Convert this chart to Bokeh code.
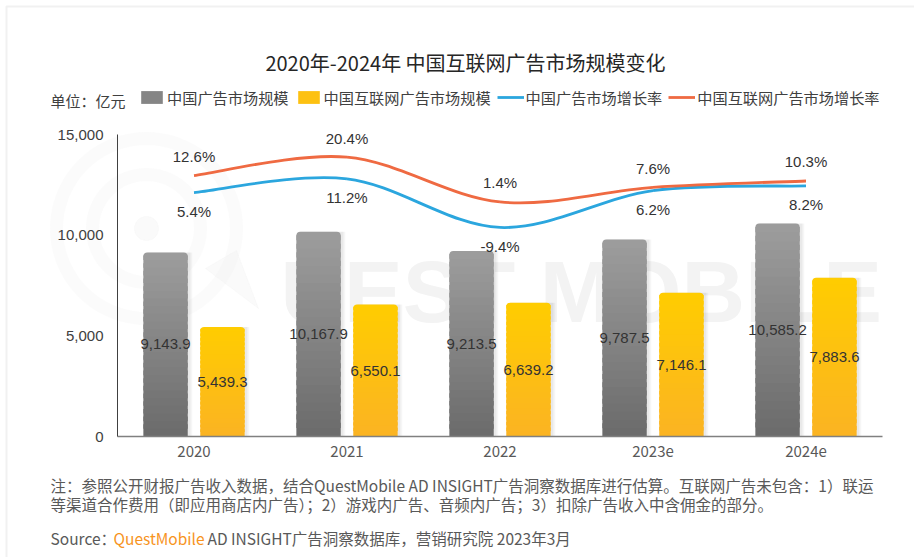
import math
from bokeh.plotting import figure
from bokeh.models import (ColumnDataSource, Range1d, FixedTicker, NumeralTickFormatter,
                          Label, Legend, LegendItem, BoxAnnotation, PolyAnnotation)
from bokeh.transform import dodge
from bokeh.core.properties import value
from bokeh.embed import file_html
from bokeh.resources import INLINE

# ---------------- data ----------------
categories = ["2020", "2021", "2022", "2023e", "2024e"]
china_ad_scale = [9143.9, 10167.9, 9213.5, 9787.5, 10585.2]
internet_ad_scale = [5439.3, 6550.1, 6639.2, 7146.1, 7883.6]
china_ad_growth = [5.4, 11.2, -9.4, 6.2, 8.2]
internet_ad_growth = [12.6, 20.4, 1.4, 7.6, 10.3]
y_ticks = [0, 5000, 10000, 15000]

title_text = "2020年-2024年 中国互联网广告市场规模变化"
unit_text = "单位：亿元"
series_names = ["中国广告市场规模", "中国互联网广告市场规模", "中国广告市场增长率", "中国互联网广告市场增长率"]
note_lines = ["注：参照公开财报广告收入数据，结合QuestMobile AD INSIGHT广告洞察数据库进行估算。互联网广告未包含：1）联运",
              "等渠道合作费用（即应用商店内广告）；2）游戏内广告、音频内广告；3）扣除广告收入中含佣金的部分。"]
source_parts = ["Source：", "QuestMobile", " AD INSIGHT广告洞察数据库，营销研究院 2023年3月"]

# ---------------- layout constants (canvas pixels) ----------------
W, H = 914, 557
FL, FR, FT, FB = 117, 882, 134, 436     # plot area inside the canvas
CJK = "Noto Sans CJK SC"
NUM = "Liberation Sans"

ncat = len(categories)
ymax = y_ticks[-1]
rate_lo, rate_hi = -98, 30
xpu = (FR - FL) / ncat                 # px per category
ypu = (FB - FT) / ymax                 # px per value unit
rpu = (FB - FT) / (rate_hi - rate_lo)  # px per rate unit

x_range = Range1d(-FL / xpu, ncat + (W - FR) / xpu)
y_range = Range1d(-(H - FB) / ypu, ymax + FT / ypu)

p = figure(width=W, height=H, x_range=x_range, y_range=y_range,
           output_backend="svg", toolbar_location=None,
           min_border_left=0, min_border_right=0, min_border_top=0, min_border_bottom=0)
p.extra_y_ranges = {"rate": Range1d(rate_lo - (H - FB) / rpu, rate_hi + FT / rpu)}
p.xgrid.visible = False
p.ygrid.visible = False
p.outline_line_color = None
p.background_fill_color = "white"
p.border_fill_color = "white"

xpos = [i + 0.5 for i in range(ncat)]

yax = p.yaxis[0]
yax.fixed_location = 0
yax.bounds = (0, ymax)
yax.ticker = FixedTicker(ticks=y_ticks)
yax.formatter = NumeralTickFormatter(format="0,0")
yax.major_tick_line_color = None
yax.minor_tick_line_color = None
yax.major_tick_out = 0
yax.axis_line_color = "#404040"
yax.axis_line_width = 1
yax.major_label_text_font = NUM
yax.major_label_text_font_size = "15px"
yax.major_label_text_color = "#404040"
yax.major_label_standoff = 14

xax = p.xaxis[0]
xax.fixed_location = 0
xax.bounds = (0, ncat)
xax.ticker = FixedTicker(ticks=xpos)
xax.major_label_overrides = {x: c for x, c in zip(xpos, categories)}
xax.major_tick_line_color = None
xax.minor_tick_line_color = None
xax.major_tick_out = 0
xax.axis_line_color = "#808080"
xax.axis_line_width = 1.5
xax.major_label_text_font = CJK
xax.major_label_text_font_size = "15px"
xax.major_label_text_color = "#595959"
xax.major_label_standoff = 9

# ---------------- helpers ----------------
def lab(text, X, Y, size, color, font=CJK, align="left", baseline="middle", style="normal", level=None):
    l = Label(x=X, y=H - Y, x_units="screen", y_units="screen", text=text,
              text_font=font, text_font_size=f"{size}px", text_color=color,
              text_align=align, text_baseline=baseline, text_font_style=style)
    if level:
        l.level = level
    p.add_layout(l)
    return l

def hex2rgb(h):
    h = h.lstrip("#")
    return [int(h[i:i + 2], 16) for i in (0, 2, 4)]

def mix(c0, c1, t):
    a, b = hex2rgb(c0), hex2rgb(c1)
    return "#%02x%02x%02x" % tuple(round(a[i] + (b[i] - a[i]) * t) for i in range(3))

# ---------------- watermark ----------------
cx, cy = 146, 228
def ring(r, n=72):
    xs = [cx + r * math.cos(2 * math.pi * k / n) for k in range(n)]
    ys = [H - (cy + r * math.sin(2 * math.pi * k / n)) for k in range(n)]
    return xs, ys
wm = "#f3f3f3"
for r in (90, 54):
    xs, ys = ring(r)
    p.add_layout(PolyAnnotation(xs=xs, ys=ys, xs_units="screen", ys_units="screen",
                                fill_color=None, line_color=wm, line_width=13, level="underlay"))
xs, ys = ring(12, 36)
p.add_layout(PolyAnnotation(xs=xs, ys=ys, xs_units="screen", ys_units="screen",
                            fill_color=wm, line_color=wm, level="underlay"))
tail = [(205, 268), (258, 308), (236, 250)]
p.add_layout(PolyAnnotation(xs=[t[0] for t in tail], ys=[H - t[1] for t in tail],
                            xs_units="screen", ys_units="screen",
                            fill_color=wm, line_color=wm, level="underlay"))
lab("UEST MOBILE", 280, 291, 88, wm, font=NUM, baseline="alphabetic", style="bold", level="underlay")

# ---------------- bars ----------------
N = 24
BW = 0.29
series = [
    (china_ad_scale, -0.186, "#9d9d9d", "#6b6b6b"),
    (internet_ad_scale, 0.186, "#ffcd00", "#fbb323"),
]
legend_renderers = []
for vals, off, ctop, cbot in series:
    sh = ColumnDataSource(dict(x=xpos, top=vals))
    p.vbar(x=dodge("x", off + 0.030), top="top", bottom=0, width=BW,
           source=sh, fill_color="#000000", fill_alpha=0.035, line_color=None)
    p.vbar(x=dodge("x", off + 0.018), top="top", bottom=0, width=BW,
           source=sh, fill_color="#000000", fill_alpha=0.05, line_color=None)
    body = dict(x=[], bottom=[], top=[], color=[])
    for xc, v in zip(xpos, vals):
        for k in range(N - 1):
            body["x"].append(xc)
            body["bottom"].append(v * k / N)
            body["top"].append(v * (k + 1.6) / N)
            body["color"].append(mix(cbot, ctop, (k + 0.5) / N))
    rb = p.vbar(x=dodge("x", off), top="top", bottom="bottom", width=BW,
                source=ColumnDataSource(body), fill_color="color", line_color=None)
    topsrc = ColumnDataSource(dict(x=xpos, bottom=[v * (N - 1) / N for v in vals], top=vals,
                                   color=[mix(cbot, ctop, (N - 0.5) / N)] * ncat))
    p.vbar(x=dodge("x", off), top="top", bottom="bottom", width=BW,
           source=topsrc, fill_color="color", line_color=None, border_radius=(4, 4, 0, 0))
    legend_renderers.append(rb)
    lsrc = ColumnDataSource(dict(x=xpos, y=[v / 2 for v in vals],
                                 t=[f"{v:,.1f}" for v in vals]))
    p.text(x=dodge("x", off), y="y", text="t", source=lsrc,
           text_font=value(NUM), text_font_size="15px", text_color="#333333",
           text_align="center", text_baseline="middle")

# ---------------- growth lines (smoothed bezier through the data points) ----------------
def bezier_source(vals):
    pts = list(zip(xpos, vals))
    d = dict(x0=[], y0=[], x1=[], y1=[], cx0=[], cy0=[], cx1=[], cy1=[])
    n = len(pts)
    for i in range(n - 1):
        p0 = pts[i - 1] if i > 0 else pts[i]
        p1, p2 = pts[i], pts[i + 1]
        p3 = pts[i + 2] if i + 2 < n else pts[i + 1]
        d["x0"].append(p1[0]); d["y0"].append(p1[1])
        d["x1"].append(p2[0]); d["y1"].append(p2[1])
        d["cx0"].append(p1[0] + (p2[0] - p0[0]) / 6); d["cy0"].append(p1[1] + (p2[1] - p0[1]) / 6)
        d["cx1"].append(p2[0] - (p3[0] - p1[0]) / 6); d["cy1"].append(p2[1] - (p3[1] - p1[1]) / 6)
    return ColumnDataSource(d)

lines = [(china_ad_growth, "#2ba6de", 19), (internet_ad_growth, "#ef6a42", -19)]
for vals, col, yoff in lines:
    r = p.bezier(x0="x0", y0="y0", x1="x1", y1="y1", cx0="cx0", cy0="cy0", cx1="cx1", cy1="cy1",
                 source=bezier_source(vals), y_range_name="rate", line_color=col, line_width=2.8)
    legend_renderers.append(r)
    tsrc = ColumnDataSource(dict(x=xpos, y=vals, t=[f"{v:.1f}%" for v in vals]))
    p.text(x="x", y="y", text="t", source=tsrc, y_range_name="rate", y_offset=yoff,
           text_font=value(NUM), text_font_size="15px", text_color="#333333",
           text_align="center", text_baseline="middle")

# ---------------- legend ----------------
items = [
    LegendItem(label=series_names[0], renderers=[legend_renderers[0]], index=N // 2),
    LegendItem(label=series_names[1], renderers=[legend_renderers[1]], index=N // 2),
    LegendItem(label=series_names[2], renderers=[legend_renderers[2]]),
    LegendItem(label=series_names[3], renderers=[legend_renderers[3]]),
]
legend = Legend(items=items, location=(138, H - 108), orientation="horizontal",
                glyph_width=27, glyph_height=16, label_height=16, label_standoff=2,
                spacing=6, padding=0, margin=0, border_line_color=None,
                background_fill_alpha=0, label_text_font=CJK, label_text_font_size="15.2px",
                label_text_color="#404040")
p.add_layout(legend)

# ---------------- texts ----------------
lab(title_text, 465, 62, 20, "#262626", align="center")
lab(unit_text, 50, 100, 15, "#404040")
lab(note_lines[0], 50, 484, 15.5, "#595959")
lab(note_lines[1], 50, 503, 15.5, "#595959")
lab(source_parts[0], 50, 537, 15.5, "#595959")
lab(source_parts[1], 113, 537, 15.5, "#f7941e")
lab(source_parts[2], 207, 537, 15.5, "#595959")

# page border
p.add_layout(BoxAnnotation(left=6, right=W + 10, top=H - 6, bottom=-10,
                           left_units="screen", right_units="screen", top_units="screen",
                           bottom_units="screen", fill_color=None, line_color="#d0d0d0",
                           line_width=2))

open("out.html", "w").write(file_html(p, INLINE))
